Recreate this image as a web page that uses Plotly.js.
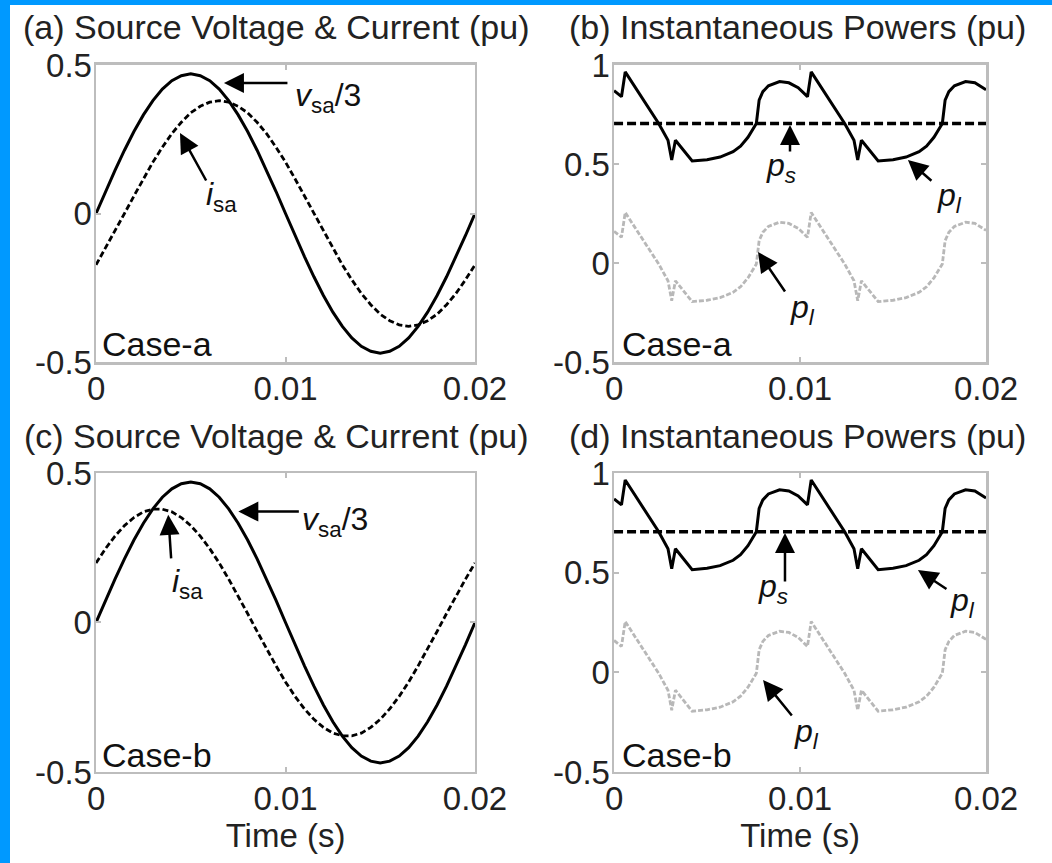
<!DOCTYPE html>
<html>
<head>
<meta charset="utf-8">
<script src="https://cdn.plot.ly/plotly-3.0.1.min.js"></script>
<style>
html,body{margin:0;padding:0;background:#fff;}
#chart{width:1052px;height:863px;}
</style>
</head>
<body>
<div id="chart"></div>
<script>
// ---- data ----
const time = [0,0.0005,0.001,0.0015,0.002,0.0025,0.003,0.0035,0.004,0.0045,0.005,0.0055,0.006,0.0065,0.007,0.0075,0.008,0.0085,0.009,0.0095,0.01,0.0105,0.011,0.0115,0.012,0.0125,0.013,0.0135,0.014,0.0145,0.015,0.0155,0.016,0.0165,0.017,0.0175,0.018,0.0185,0.019,0.0195,0.02];
const vsa3 = [0,0.074,0.145,0.213,0.276,0.332,0.380,0.419,0.447,0.464,0.470,0.464,0.447,0.419,0.380,0.332,0.276,0.213,0.145,0.074,0,-0.074,-0.145,-0.213,-0.276,-0.332,-0.380,-0.419,-0.447,-0.464,-0.470,-0.464,-0.447,-0.419,-0.380,-0.332,-0.276,-0.213,-0.145,-0.074,0];
const isaCaseA = [-0.173,-0.117,-0.059,0,0.059,0.117,0.173,0.223,0.269,0.307,0.339,0.361,0.375,0.38,0.375,0.361,0.339,0.307,0.269,0.223,0.173,0.117,0.059,0,-0.059,-0.117,-0.173,-0.223,-0.269,-0.307,-0.339,-0.361,-0.375,-0.38,-0.375,-0.361,-0.339,-0.307,-0.269,-0.223,-0.173];
const isaCaseB = [0.199,0.247,0.289,0.324,0.351,0.370,0.379,0.379,0.370,0.351,0.324,0.289,0.247,0.199,0.145,0.089,0.030,-0.030,-0.089,-0.145,-0.199,-0.247,-0.289,-0.324,-0.351,-0.370,-0.379,-0.379,-0.370,-0.351,-0.324,-0.289,-0.247,-0.199,-0.145,-0.089,-0.030,0.030,0.089,0.145,0.199];

const timePow = [0,0.0004,0.0006,0.0024,0.0029,0.0031,0.0033,0.0042,0.0050,0.0057,0.0064,0.0068,0.0072,0.00765,0.0078,0.0080,0.0083,0.0089,0.0094,0.0099,0.0104,0.0106,0.0124,0.0129,0.0131,0.0133,0.0142,0.0150,0.0157,0.0164,0.0168,0.0172,0.01765,0.0178,0.0180,0.0183,0.0189,0.0194,0.0200];
const pLoad = [0.87,0.84,0.965,0.705,0.62,0.52,0.62,0.515,0.522,0.535,0.562,0.59,0.635,0.705,0.823,0.865,0.895,0.916,0.91,0.885,0.84,0.965,0.705,0.62,0.52,0.62,0.515,0.522,0.535,0.562,0.59,0.635,0.705,0.823,0.865,0.895,0.916,0.91,0.875];
const pOsc = [0.16,0.13,0.255,-0.005,-0.09,-0.19,-0.09,-0.195,-0.188,-0.175,-0.148,-0.12,-0.075,-0.005,0.113,0.155,0.185,0.206,0.20,0.175,0.13,0.255,-0.005,-0.09,-0.19,-0.09,-0.195,-0.188,-0.175,-0.148,-0.12,-0.075,-0.005,0.113,0.155,0.185,0.206,0.20,0.165];
const timeSrc = [0,0.02];
const pSource = [0.705,0.705];

const xTicks = [0,0.01,0.02];
const xTickText = ['0','0.01','0.02'];
const yTicksV = [-0.5,0,0.5];
const yTickTextV = ['-0.5','0','0.5'];
const yTicksP = [-0.5,0,0.5,1];
const yTickTextP = ['-0.5','0','0.5','1'];

// ---- styling ----
const FONT = 'Liberation Sans, Arial, sans-serif';
const TXT = '#222';
const FRAME = '#bdbdbd';

function solid(x,y,xa,ya,w){return {x:x,y:y,xaxis:xa,yaxis:ya,type:'scatter',mode:'lines',line:{color:'#000',width:w||3},hoverinfo:'skip'};}
function dashed(x,y,xa,ya,dash,w,c){return {x:x,y:y,xaxis:xa,yaxis:ya,type:'scatter',mode:'lines',line:{color:c||'#000',width:w,dash:dash},hoverinfo:'skip'};}

const data = [
  solid(time,vsa3,'x','y'),
  dashed(time,isaCaseA,'x','y','6px,3px',2.8),
  dashed(timePow,pOsc,'x2','y2','5px,2px',2.8,'#b8b8b8'),
  solid(timePow,pLoad,'x2','y2'),
  dashed(timeSrc,pSource,'x2','y2','9px,4px',3.5),
  solid(time,vsa3,'x3','y3'),
  dashed(time,isaCaseB,'x3','y3','6px,3px',2.8),
  dashed(timePow,pOsc,'x4','y4','5px,2px',2.8,'#b8b8b8'),
  solid(timePow,pLoad,'x4','y4'),
  dashed(timeSrc,pSource,'x4','y4','9px,4px',3.5)
];

function xax(domain,anchor,title){
  const a = {domain:domain,anchor:anchor,range:[0,0.02],tickvals:xTicks,ticktext:xTickText,
    showgrid:false,zeroline:false,showline:true,mirror:'ticks',linecolor:FRAME,linewidth:2.5,
    ticks:'inside',ticklen:5,tickwidth:2,tickcolor:FRAME,ticklabelstandoff:-4,
    tickfont:{family:FONT,size:33,color:TXT}};
  if(title){a.title={text:title,font:{family:FONT,size:33,color:TXT},standoff:4};}
  return a;
}
function yax(domain,anchor,range,tv,tt){
  return {domain:domain,anchor:anchor,range:range,tickvals:tv,ticktext:tt,
    showgrid:false,zeroline:false,showline:true,mirror:'ticks',linecolor:FRAME,linewidth:2.5,
    ticks:'inside',ticklen:5,tickwidth:2,tickcolor:FRAME,ticklabelstandoff:-5,
    tickfont:{family:FONT,size:33,color:TXT}};
}

const xL=[0.0913,0.4515], xR=[0.5837,0.9373], yT=[0.5805,0.9247], yB=[0.1055,0.4519];

function arrow(xr,yr,x,y,ax,ay){
  return {xref:xr,yref:yr,x:x,y:y,ax:ax,ay:ay,text:'',showarrow:true,arrowhead:2,arrowsize:1.6,arrowwidth:2.5,arrowcolor:'#000',standoff:0,startstandoff:0};
}
function label(xr,yr,x,y,txt,size,xa,ya){
  return {xref:xr,yref:yr,x:x,y:y,text:txt,showarrow:false,xanchor:xa||'left',yanchor:ya||'middle',font:{family:FONT,size:size,color:'#111'}};
}
function title(x,y,txt){
  return {xref:'paper',yref:'paper',x:x,y:y,text:txt,showarrow:false,xanchor:'center',yanchor:'middle',font:{family:FONT,size:34,color:TXT}};
}

const V = '<i>v</i><sub>sa</sub>/3';
const I = '<i>i</i><sub>sa</sub>';
const PS = '<i>p</i><sub><i>s</i></sub>';
const PL = '<i>p</i><sub><i>l</i></sub>';

const annotations = [
  title(276/1052,1-27/863,'(a) Source Voltage &amp; Current (pu)'),
  title(797/1052,1-27/863,'(b) Instantaneous Powers (pu)'),
  title(276/1052,1-436/863,'(c) Source Voltage &amp; Current (pu)'),
  title(797/1052,1-436/863,'(d) Instantaneous Powers (pu)'),
  // (a)
  arrow('x','y',0.00675,0.439,65,0),
  label('x','y',0.0104,0.389,V,32),
  arrow('x','y',0.00443,0.271,27,49),
  label('x','y',0.0057,0.056,I,32),
  label('x','y',0.0002,-0.44,'Case-a',34),
  // (b)
  arrow('x2','y2',0.00946,0.697,0,28),
  label('x2','y2',0.00898,0.48,PS,32,'center'),
  arrow('x2','y2',0.0158,0.52,25,22),
  label('x2','y2',0.01801,0.333,PL,32,'center'),
  arrow('x2','y2',0.00774,0.056,28,41),
  label('x2','y2',0.01011,-0.237,PL,32,'center'),
  label('x2','y2',0.0003,-0.41,'Case-a',34),
  // (c)
  arrow('x3','y3',0.00751,0.371,62,0),
  label('x3','y3',0.01079,0.339,V,32),
  arrow('x3','y3',0.00381,0.36,3,45),
  label('x3','y3',0.0039,0.129,I,32),
  label('x3','y3',0.0002,-0.443,'Case-b',34),
  // (d)
  arrow('x4','y4',0.00919,0.699,0,50),
  label('x4','y4',0.00855,0.42,PS,32,'center'),
  arrow('x4','y4',0.01634,0.513,30,20),
  label('x4','y4',0.01871,0.348,PL,32,'center'),
  arrow('x4','y4',0.00801,-0.039,30,37),
  label('x4','y4',0.01032,-0.305,PL,32,'center'),
  label('x4','y4',0.0003,-0.415,'Case-b',34)
];

const layout = {
  width:1052,height:863,
  margin:{l:0,r:0,t:0,b:0},
  paper_bgcolor:'#fff',plot_bgcolor:'#fff',
  showlegend:false,
  font:{family:FONT,color:TXT},
  xaxis:xax(xL,'y'),
  yaxis:yax(yT,'x',[-0.5,0.5],yTicksV,yTickTextV),
  xaxis2:xax(xR,'y2'),
  yaxis2:yax(yT,'x2',[-0.5,1],yTicksP,yTickTextP),
  xaxis3:xax(xL,'y3','Time (s)'),
  yaxis3:yax(yB,'x3',[-0.5,0.5],yTicksV,yTickTextV),
  xaxis4:xax(xR,'y4','Time (s)'),
  yaxis4:yax(yB,'x4',[-0.5,1],yTicksP,yTickTextP),
  annotations:annotations,
  shapes:[
    {type:'rect',xref:'paper',yref:'paper',x0:0,x1:10/1052,y0:0,y1:1,fillcolor:'#0099ff',line:{width:0}},
    {type:'rect',xref:'paper',yref:'paper',x0:0,x1:1,y0:1-5/863,y1:1,fillcolor:'#0099ff',line:{width:0}}
  ]
};

Plotly.newPlot('chart',data,layout,{displayModeBar:false,staticPlot:true});
</script>
</body>
</html>
